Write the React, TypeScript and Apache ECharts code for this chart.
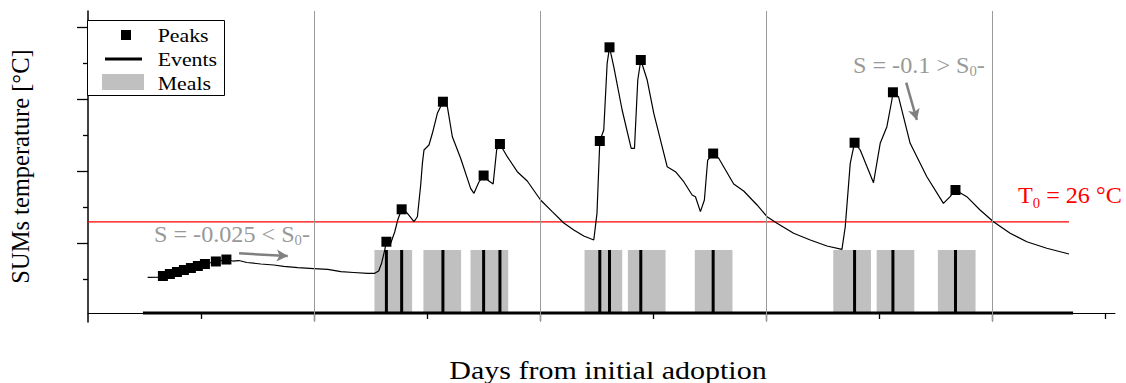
import React, { useEffect, useRef } from "react";
import * as echarts from "echarts";

const FONT = '"Liberation Serif", "Times New Roman", serif';

// SUMs temperature curve (hours from initial adoption, °C)
const tempHours = [
  6.33, 7.53, 7.95, 8.69, 9.44, 10.18, 10.92, 11.66, 12.41, 13.57,
  14.69, 15.37, 16.01, 16.86, 18.34, 19.72, 20.78, 22.27, 23.96, 25.45,
  26.83, 28.2, 29.69, 30.43, 30.85, 31.17, 31.49, 31.67, 32.13, 32.55,
  32.87, 33.29, 33.9, 34.6, 34.96, 35.31, 35.49, 35.66, 36.19, 36.55,
  37.08, 37.67, 38.14, 38.67, 39.55, 40.61, 40.96, 41.49, 41.99, 42.55,
  43.0, 43.37, 43.72, 44.5, 45.56, 46.62, 48.03, 49.27, 50.5, 51.56,
  52.62, 53.68, 54.02, 54.32, 54.74, 55.1, 55.35, 55.8, 56.69, 57.65,
  58.0, 58.35, 58.67, 59.35, 60.05, 61.47, 62.35, 63.23, 64.12, 64.47,
  65.0, 65.42, 65.77, 66.35, 66.94, 68.53, 69.59, 71.01, 72.07, 73.13,
  74.89, 76.66, 78.43, 80.02, 80.37, 80.9, 81.36, 81.96, 83.37, 84.08,
  84.79, 85.32, 85.43, 86.02, 87.26, 89.03, 90.79, 91.5, 92.07, 93.27,
  94.68, 96.1, 97.87, 99.64, 101.76, 104.12,
];
const tempValues = [
  18.28, 18.34, 18.48, 18.76, 19.04, 19.32, 19.59, 19.87, 20.15, 20.5,
  20.77, 20.56, 20.63, 20.36, 20.15, 20.01, 19.83, 19.64, 19.52, 19.41,
  19.08, 18.97, 18.86, 18.86, 19.18, 20.29, 22.09, 23.24, 23.02, 24.59,
  26.25, 27.74, 27.18, 26.02, 26.71, 31.11, 34.12, 35.97, 36.66, 38.29,
  41.06, 42.67, 41.98, 37.81, 34.82, 30.65, 29.96, 31.53, 32.43, 31.67,
  31.25, 35.97, 36.8, 35.04, 32.96, 31.67, 29.03, 27.41, 25.84, 24.87,
  24.03, 23.48, 27.18, 37.22, 38.74, 48.0, 50.22, 47.53, 41.52, 36.2,
  36.2, 45.68, 48.46, 45.68, 41.06, 33.65, 32.96, 31.57, 29.72, 29.49,
  27.41, 29.03, 34.58, 35.48, 34.82, 31.25, 30.28, 28.34, 26.71, 25.8,
  24.41, 23.48, 22.65, 22.19, 25.32, 34.12, 36.98, 35.97, 31.43, 36.9,
  39.2, 42.91, 43.98, 43.37, 36.9, 32.26, 28.57, 29.49, 30.42, 29.49,
  27.64, 26.02, 24.41, 23.24, 22.33, 21.54,
];

// detected peaks
const peakHours = [
  7.95, 8.69, 9.44, 10.18, 10.92, 11.66, 12.41, 13.57, 14.69,
  31.67, 33.29, 37.67, 41.99, 43.72, 54.32, 55.35, 58.67, 66.35,
  81.36, 85.43, 92.07,
];
const peakValues = [
  18.48, 18.76, 19.04, 19.32, 19.59, 19.87, 20.15, 20.5, 20.77,
  23.24, 27.74, 42.67, 32.43, 36.8, 37.22, 50.22, 48.46, 35.48,
  36.98, 43.98, 30.42,
];

// cooking events (hours) and the span of the event record
const eventHours = [31.67, 33.29, 37.67, 41.99, 43.72, 54.32, 55.35, 58.67, 66.35, 81.36, 85.43, 92.07];
const eventSpan = [5.83, 104.55];

// meal windows (hours)
const mealStart = [30.4, 35.6, 40.6, 52.7, 57.3, 64.4, 79.1, 83.7, 90.2];
const mealEnd = [34.4, 39.6, 44.6, 56.7, 61.3, 68.4, 83.1, 87.7, 94.2];

// threshold
const T0 = 26;
const T0Span = [0, 104.12];

// axes
const xMin = 0;
const xMax = 109;
const dayTicks = [24, 48, 72, 96];
const halfDayTicks = [12, 36, 60, 84, 108];
const yMin = 12.1;
const yMax = 55.26;
const yMajorTicks = [23, 33, 43, 53];
const yMinorTicks = [18, 28, 38, 48];

// slope annotation arrows [start, end] in (hours, °C)
const arrowFlat = [[16.03, 21.63], [21.2, 21.26]];
const arrowSteep = [[86.84, 45.31], [87.97, 40.13]];

export default function App() {
  const ref = useRef<HTMLDivElement>(null);

  useEffect(() => {
    if (!ref.current) return;
    const chart = echarts.init(ref.current, null, { renderer: "svg" });

    const curve = tempHours.map((h, i) => [h, tempValues[i]]);
    const peaks = peakHours.map((h, i) => [h, peakValues[i]]);
    const eventsData: number[][] = [[eventSpan[0], 0]];
    eventHours.forEach((t) => {
      eventsData.push([t, 0], [t, 1], [t, 0]);
    });
    eventsData.push([eventSpan[1], 0]);
    const meals = mealStart.map((s, i) => [s, mealEnd[i], 1]);

    const arrowStyle = { color: "#808080", width: 2.5, type: "solid" };
    const arrowItem = (a: number[][]) => [
      { coord: a[0], symbol: "none", lineStyle: arrowStyle },
      { coord: a[1], symbol: "arrow", symbolSize: [9, 11], lineStyle: arrowStyle },
    ];

    const subText = (main1: string, sub: string, main2: string) =>
      `{m|${main1}}{s|${sub}}{m|${main2}}`;

    const option: any = {
      animation: false,
      grid: { left: 87, right: 11, top: 11, bottom: 61, containLabel: false },
      xAxis: [
        {
          type: "value",
          min: xMin,
          max: xMax,
          axisLine: { show: true, onZero: true, onZeroAxisIndex: 1, lineStyle: { color: "#000", width: 1 } },
          axisTick: { show: true, customValues: dayTicks, length: 8, lineStyle: { color: "#000", width: 1.3 } },
          axisLabel: { show: false },
          splitLine: { show: false },
        },
        {
          type: "value",
          min: xMin,
          max: xMax,
          position: "bottom",
          axisLine: { show: false, onZero: true, onZeroAxisIndex: 1 },
          axisTick: { show: true, customValues: halfDayTicks, length: 6, lineStyle: { color: "#000", width: 1.3 } },
          axisLabel: { show: false },
          splitLine: { show: false },
        },
      ],
      yAxis: [
        {
          type: "value",
          min: yMin,
          max: yMax,
          position: "left",
          name: "SUMs temperature [°C]",
          nameLocation: "middle",
          nameGap: 55,
          nameTextStyle: { fontFamily: FONT, fontSize: 24.5, color: "#000" },
          axisLine: { show: true, lineStyle: { color: "#000", width: 1.5 } },
          axisTick: { show: true, customValues: yMajorTicks, length: 11, lineStyle: { color: "#000", width: 1.3 } },
          axisLabel: { show: false },
          splitLine: { show: false },
        },
        {
          type: "value",
          min: -0.142857,
          max: 4.7937,
          show: false,
          splitLine: { show: false },
        },
        {
          type: "value",
          min: yMin,
          max: yMax,
          position: "left",
          axisLine: { show: false },
          axisTick: { show: true, customValues: yMinorTicks, length: 5, lineStyle: { color: "#000", width: 1.3 } },
          axisLabel: { show: false },
          splitLine: { show: false },
        },
      ],
      series: [
        {
          name: "Meals",
          type: "custom",
          xAxisIndex: 0,
          yAxisIndex: 1,
          z: 1,
          encode: { x: [0, 1], y: 2 },
          data: meals,
          renderItem: (_params: any, api: any) => {
            const p0 = api.coord([api.value(0), 0]);
            const p1 = api.coord([api.value(1), api.value(2)]);
            return {
              type: "rect",
              shape: { x: p0[0], y: p1[1], width: p1[0] - p0[0], height: p0[1] - p1[1] },
              style: { fill: "#c0c0c0" },
            };
          },
        },
        {
          name: "Events",
          type: "line",
          xAxisIndex: 0,
          yAxisIndex: 1,
          z: 2,
          data: eventsData,
          showSymbol: false,
          symbol: "none",
          lineStyle: { color: "#000", width: 3 },
        },
        {
          name: "T0",
          type: "line",
          xAxisIndex: 0,
          yAxisIndex: 0,
          z: 3,
          data: T0Span.map((h) => [h, T0]),
          symbol: "none",
          lineStyle: { color: "#ff0000", width: 1.3 },
        },
        {
          name: "Temperature",
          type: "line",
          xAxisIndex: 0,
          yAxisIndex: 0,
          z: 4,
          data: curve,
          symbol: "none",
          lineStyle: { color: "#000", width: 1.2 },
          markLine: {
            silent: true,
            animation: false,
            symbol: ["none", "none"],
            label: { show: false },
            lineStyle: { color: "#9a9a9a", width: 1, type: "solid" },
            data: [
              ...dayTicks.map((d) => ({ xAxis: d })),
              arrowItem(arrowFlat),
              arrowItem(arrowSteep),
            ],
          },
        },
        {
          name: "Peaks",
          type: "scatter",
          xAxisIndex: 0,
          yAxisIndex: 0,
          z: 5,
          data: peaks,
          symbol: "rect",
          symbolSize: 10,
          itemStyle: { color: "#000", opacity: 1 },
        },
      ],
      graphic: [
        // legend
        {
          type: "rect",
          shape: { x: 87.5, y: 20.5, width: 137, height: 75 },
          style: { fill: "#fff", stroke: "#000", lineWidth: 1 },
          z: 100,
        },
        { type: "rect", shape: { x: 121, y: 30, width: 10, height: 10 }, style: { fill: "#000" }, z: 101 },
        { type: "line", shape: { x1: 105, y1: 59, x2: 142, y2: 59 }, style: { stroke: "#000", lineWidth: 3 }, z: 101 },
        { type: "rect", shape: { x: 102, y: 74, width: 42, height: 16 }, style: { fill: "#c0c0c0" }, z: 101 },
        ...[
          ["Peaks", 35.5],
          ["Events", 59.8],
          ["Meals", 83.8],
        ].map(([t, y]) => ({
          type: "text",
          x: 157.7,
          y: y as number,
          scaleX: 1.18,
          z: 101,
          style: {
            text: t as string,
            fontFamily: FONT,
            fontSize: 18.5,
            fill: "#000",
            align: "left",
            verticalAlign: "middle",
            textAlign: "left",
            textVerticalAlign: "middle",
          },
        })),
        // x-axis title
        {
          type: "text",
          x: 608,
          y: 370,
          scaleX: 1.2,
          style: {
            text: "Days from initial adoption",
            fontFamily: FONT,
            fontSize: 25,
            fill: "#000",
            align: "center",
            verticalAlign: "middle",
            textAlign: "center",
            textVerticalAlign: "middle",
          },
        },
        // annotations
        {
          type: "text",
          x: 154,
          y: 234,
          scaleX: 1.05,
          z: 50,
          style: {
            text: subText("S = -0.025 < S", "0", "-"),
            align: "left",
            verticalAlign: "middle",
            textAlign: "left",
            textVerticalAlign: "middle",
            rich: {
              m: { fontFamily: FONT, fontSize: 23, fill: "#999999", lineHeight: 26 },
              s: { fontFamily: FONT, fontSize: 14, fill: "#999999", lineHeight: 2, verticalAlign: "bottom" },
            },
          },
        },
        {
          type: "text",
          x: 853,
          y: 65.5,
          scaleX: 1.05,
          z: 50,
          style: {
            text: subText("S = -0.1 > S", "0", "-"),
            align: "left",
            verticalAlign: "middle",
            textAlign: "left",
            textVerticalAlign: "middle",
            rich: {
              m: { fontFamily: FONT, fontSize: 23, fill: "#999999", lineHeight: 26 },
              s: { fontFamily: FONT, fontSize: 14, fill: "#999999", lineHeight: 2, verticalAlign: "bottom" },
            },
          },
        },
        {
          type: "text",
          x: 1018,
          y: 195.5,
          scaleX: 1.05,
          z: 50,
          style: {
            text: subText("T", "0", " = 26 °C"),
            align: "left",
            verticalAlign: "middle",
            textAlign: "left",
            textVerticalAlign: "middle",
            rich: {
              m: { fontFamily: FONT, fontSize: 23, fill: "#ff0000", lineHeight: 30 },
              s: { fontFamily: FONT, fontSize: 14, fill: "#ff0000", lineHeight: 3, verticalAlign: "bottom" },
            },
          },
        },
      ],
    };

    chart.setOption(option);
    return () => chart.dispose();
  }, []);

  return (
    <div
      ref={ref}
      style={{ position: "absolute", left: 0, top: 0, width: 1126, height: 383 }}
    />
  );
}
